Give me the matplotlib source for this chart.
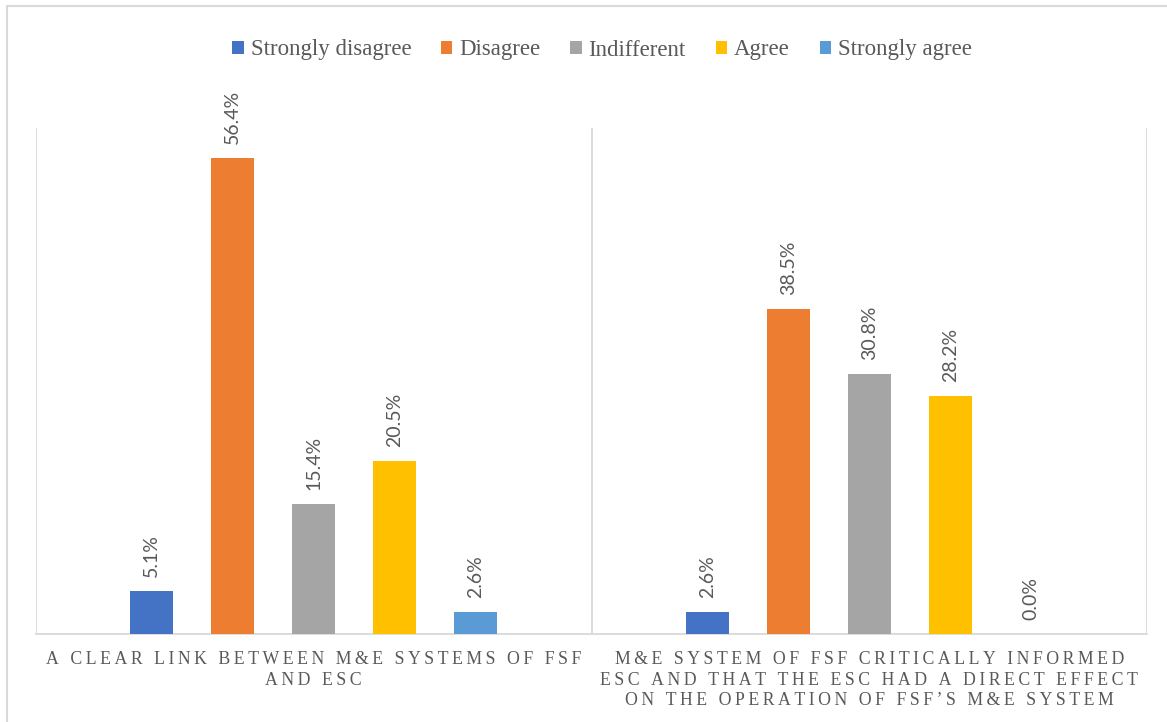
import numpy as np
import matplotlib
matplotlib.use("Agg")
import matplotlib.pyplot as plt
from matplotlib.patches import Patch, Rectangle

# Data
categories = [
    "A CLEAR LINK BETWEEN M&E SYSTEMS OF FSF\nAND ESC",
    "M&E SYSTEM OF FSF CRITICALLY INFORMED\nESC AND THAT THE ESC HAD A DIRECT EFFECT\nON THE OPERATION OF FSF\u2019S M&E SYSTEM",
]
series = ["Strongly disagree", "Disagree", "Indifferent", "Agree", "Strongly agree"]
strongly_disagree = [5.1, 2.6]
disagree = [56.4, 38.5]
indifferent = [15.4, 30.8]
agree = [20.5, 28.2]
strongly_agree = [2.6, 0.0]
values = [strongly_disagree, disagree, indifferent, agree, strongly_agree]
colors = ["#4472C4", "#ED7D31", "#A5A5A5", "#FFC000", "#5B9BD5"]

text_gray = "#595959"
line_gray = "#D9D9D9"
serif = ["Liberation Serif", "DejaVu Serif"]


def spaced(s):
    # imitate the letter spacing of the category labels
    return "\n".join("\u2009".join(line) for line in s.split("\n"))


fig = plt.figure(figsize=(11.67, 7.22), dpi=100)
ax = fig.add_axes([36 / 1167, 1 - 634 / 722, 1111 / 1167, 506 / 722])

x = np.arange(len(categories))
step = 0.1458
width = 0.0774
for i, (name, vals, c) in enumerate(zip(series, values, colors)):
    pos = x + (i - 2) * step
    ax.bar(pos, vals, width, color=c, label=name, zorder=3)
    for px, v in zip(pos, vals):
        ax.annotate(f"{v:.1f}%", (px, v), xytext=(0, 10), textcoords="offset points",
                    rotation=90, ha="center", va="bottom", fontsize=14,
                    family="Lato", color=text_gray)

ax.set_xlim(-0.5, 1.5)
ax.set_ylim(0, 60)
ax.set_yticks([])
for xv in [-0.5, 0.5, 1.5]:
    ax.axvline(xv, color=line_gray, lw=1.3, zorder=1)
for s in ["top", "left", "right"]:
    ax.spines[s].set_visible(False)
ax.spines["bottom"].set_color(line_gray)
ax.spines["bottom"].set_linewidth(1.3)

ax.set_xticks(x)
ax.set_xticklabels([spaced(c) for c in categories], family=serif, fontsize=12.8,
                   color=text_gray, linespacing=1.3)
ax.tick_params(axis="x", length=0, pad=12)

handles = [Patch(facecolor=c, label=n) for n, c in zip(series, colors)]
fig.legend(handles=handles, loc="center", bbox_to_anchor=(602 / 1167, 1 - 50 / 722),
           ncol=5, frameon=False, prop={"family": serif, "size": 16.5},
           labelcolor=text_gray, handlelength=0.5, handleheight=0.5,
           handletextpad=0.3, columnspacing=1.3)

# chart border
fig.patches.append(Rectangle((7 / 1167, -0.1), 1.2, 1.1 - 6 / 722, transform=fig.transFigure,
                             fill=False, edgecolor=line_gray, lw=1.5))

fig.savefig("out.png", dpi=100)
